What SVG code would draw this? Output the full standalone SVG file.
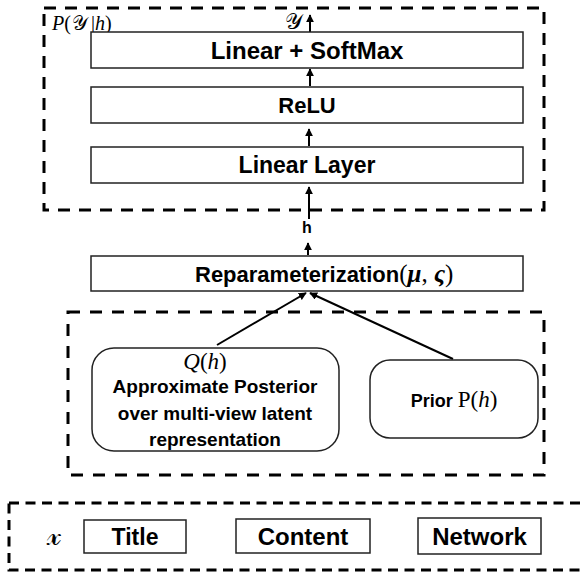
<svg xmlns="http://www.w3.org/2000/svg" width="582" height="575" viewBox="0 0 582 575">
<style>
.dash{fill:none;stroke:#000;stroke-width:3}
.box{fill:#fff;stroke:#222;stroke-width:1.5}
.lbl{font-family:"Liberation Sans",Arial,sans-serif;font-weight:bold;fill:#000;text-anchor:middle}
.math{font-family:"Liberation Serif","DejaVu Serif",serif;fill:#000}
.conn{stroke:#000;stroke-width:2;fill:none}
</style>
<defs>
<marker id="ah" viewBox="0 0 10 10" refX="9" refY="5" markerWidth="4" markerHeight="4" orient="auto" markerUnits="strokeWidth">
<path d="M0,0 L10,5 L0,10 z" fill="#000"/>
</marker>
</defs>
<rect width="582" height="575" fill="#fff"/>
<g id="group-classifier">
<rect class="dash" x="44" y="8" width="500" height="202" stroke-dasharray="12 9"/>
<text class="math" x="52" y="30" font-size="20"><tspan font-style="italic">P</tspan>(<tspan dx="1" font-weight="normal">𝒴</tspan><tspan dx="3">|</tspan><tspan font-style="italic">h</tspan>)</text>
</g>
<g id="group-latent">
<rect class="dash" x="68" y="312" width="476" height="163" stroke-dasharray="12 10"/>
</g>
<g id="group-input">
<rect class="dash" x="9" y="503" width="590" height="67" stroke-dasharray="10 6.5"/>
<text class="math" x="54" y="545" font-size="30" font-weight="normal" text-anchor="middle">𝓍</text>
</g>
<g id="connectors">
<line class="conn" x1="310" y1="32" x2="310" y2="15" marker-end="url(#ah)"/>
<line class="conn" x1="310" y1="86" x2="310" y2="69" marker-end="url(#ah)"/>
<line class="conn" x1="309" y1="146" x2="309" y2="129" marker-end="url(#ah)"/>
<line class="conn" x1="309" y1="219" x2="309" y2="187" marker-end="url(#ah)"/>
<line class="conn" x1="308" y1="255" x2="308" y2="243" marker-end="url(#ah)"/>
<line class="conn" x1="217" y1="345" x2="306" y2="293" marker-end="url(#ah)"/>
<line class="conn" x1="453" y1="359" x2="310" y2="293" marker-end="url(#ah)"/>
</g>
<text class="math" x="293" y="29" font-size="22" text-anchor="middle">𝒴</text>
<text class="lbl" x="307" y="233" font-size="16">h</text>
<g id="node-softmax">
<rect class="box" x="91" y="32" width="432" height="36"/>
<text class="lbl" x="307" y="59" font-size="24">Linear + SoftMax</text>
</g>
<g id="node-relu">
<rect class="box" x="91" y="87" width="432" height="36"/>
<text class="lbl" x="307" y="113" font-size="22">ReLU</text>
</g>
<g id="node-linear">
<rect class="box" x="91" y="147" width="432" height="36"/>
<text class="lbl" x="307" y="173" font-size="23">Linear Layer</text>
</g>
<g id="node-reparam">
<rect class="box" x="91" y="256" width="432" height="35"/>
<text x="195" y="282"><tspan class="lbl" style="text-anchor:start" font-size="22">Reparameterization</tspan><tspan class="math" font-size="25">(<tspan font-style="italic" font-weight="bold">μ</tspan>, <tspan font-style="italic" font-weight="bold">ς</tspan>)</tspan></text>
</g>
<g id="node-posterior">
<rect class="box" x="92" y="348" width="247" height="103" rx="22"/>
<text class="math" x="205" y="369" font-size="23" text-anchor="middle"><tspan font-style="italic">Q</tspan>(<tspan font-style="italic">h</tspan>)</text>
<text class="lbl" x="215" y="393" font-size="19">Approximate Posterior</text>
<text class="lbl" x="215" y="420" font-size="19">over multi-view latent</text>
<text class="lbl" x="215" y="446" font-size="19">representation</text>
</g>
<g id="node-prior">
<rect class="box" x="370" y="360" width="168" height="78" rx="20"/>
<text x="454" y="407" text-anchor="middle"><tspan class="lbl" font-size="18">Prior </tspan><tspan class="math" font-size="23">P(<tspan font-style="italic">h</tspan>)</tspan></text>
</g>
<g id="node-title">
<rect class="box" x="84" y="520" width="102" height="33"/>
<text class="lbl" x="135" y="545" font-size="23">Title</text>
</g>
<g id="node-content">
<rect class="box" x="236" y="519" width="134" height="34"/>
<text class="lbl" x="303" y="545" font-size="24">Content</text>
</g>
<g id="node-network">
<rect class="box" x="418" y="518" width="123" height="36"/>
<text class="lbl" x="479.5" y="545" font-size="24">Network</text>
</g>
</svg>
